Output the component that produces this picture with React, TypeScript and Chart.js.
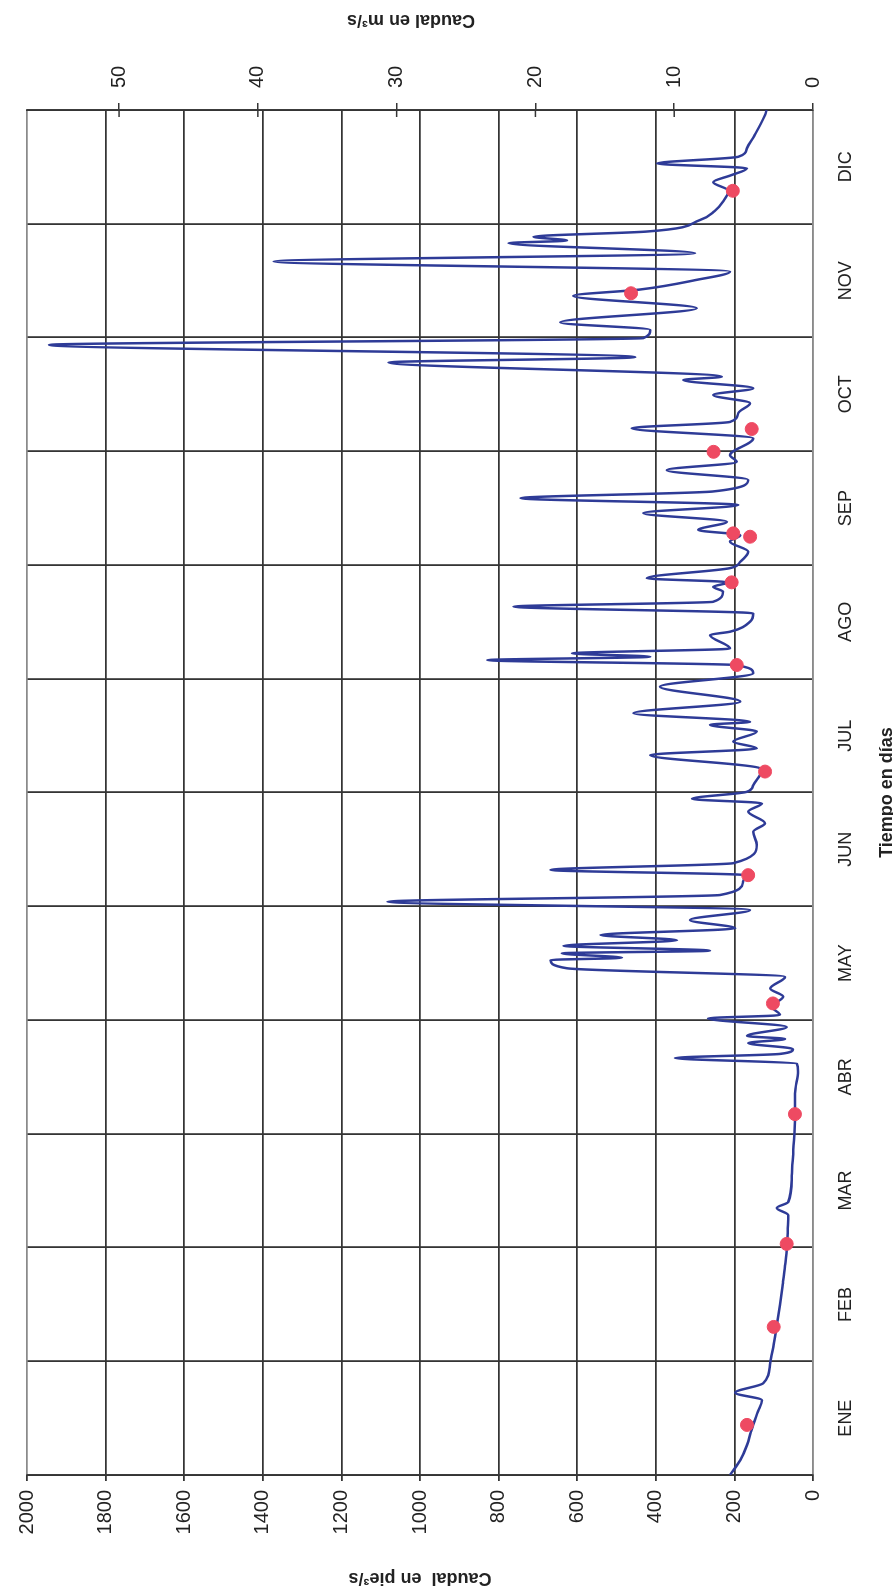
import React, { useEffect, useRef } from "react";
import { Chart, registerables } from "chart.js";

Chart.register(...registerables);

// ---------- data ----------
const MONTHS = ["ENE", "FEB", "MAR", "ABR", "MAY", "JUN", "JUL", "AGO", "SEP", "OCT", "NOV", "DIC"];
const DAYS_IN_YEAR = 365;
const CFS_PER_CMS = 35.3147;
const CFS_MAX = 2000;
const CFS_STEP = 200;
const CMS_STEP = 10;

// daily discharge trace (day of year, ft³/s)
const FLOW_DAY = [
  0, 4, 8, 11.5, 13.5, 17, 20, 22, 24.5, 30, 35, 40, 45.5, 51, 56, 61, 66, 69.5, 71.4, 73,
  80, 87, 96, 102, 108, 110, 111.5, 112.6, 113.9, 115.5, 116.6, 117.4, 119.8, 122.1, 123,
  125.2, 127.9, 130.1, 133.2, 135.5, 137.7, 138.3, 139.5, 140.2, 141.5, 143, 144.4, 146.2,
  148.4, 151.1, 153.3, 155.1, 158.6, 160.4, 161.8, 163.6, 168.5, 172, 174.3, 177.4, 179.6,
  180.8, 182.7, 184.5, 188.1, 189, 192.5, 194.3, 196.1, 198.8, 200.6, 201.4, 203.7, 206.8,
  210.8, 214.4, 216.6, 217.9, 218.8, 219.7, 221, 224.6, 225.5, 228.2, 230.4, 232.2, 233.5,
  236.2, 237.5, 238.7, 239.8, 242.5, 244.2, 246.9, 249.6, 251.3, 252.7, 254.9, 257.2, 259.4,
  261.2, 263, 266.1, 268.7, 270.9, 272.7, 277.2, 279.9, 281.6, 284, 286.6, 288.8, 290.6,
  292.8, 293.7, 297.5, 298.9, 302.2, 304, 306.2, 308.2, 312, 315.3, 317, 319.5, 321.8, 324.5,
  326.7, 329.4, 330.1, 331.1, 332.5, 335.6, 338, 340.5, 343.4, 345.7, 347.5, 349.4, 350.7,
  352.5, 354.8, 358, 363.7, 365,
];
const FLOW_CFS = [
  211, 185, 168, 158, 152, 140, 130, 198, 127, 109, 100, 92, 84, 77, 71, 66, 64, 63, 92, 63,
  54, 50, 46, 46, 38, 41, 351, 84, 51, 165, 71, 168, 67, 267, 84,
  105, 76, 109, 71, 626, 668, 486, 639, 262, 635, 346, 541, 198,
  313, 160, 1083, 236, 178, 172, 668, 203, 143, 152, 122, 165, 130,
  308, 168, 152, 132, 135, 414, 143, 203, 143, 262, 160, 457, 185,
  389, 152, 200, 829, 414, 613, 211, 262, 211, 160, 152, 762, 254,
  229, 254, 215, 423, 211, 185, 165, 211, 185, 292, 219, 432, 190,
  744, 254, 165, 372, 194, 211, 152, 461, 211, 190, 160, 254, 152,
  330, 232, 1080, 452, 1944, 432, 414, 643, 296, 610, 440, 300, 211, 1372,
  300, 775, 626, 711, 423, 287, 250, 229, 215, 254, 210, 168, 397,
  190, 168, 150, 122, 118,
];

// measured samples (red dots)
const SAMPLE_DAY = [13.4, 39.6, 61.8, 96.5, 126.1, 160.4, 188.1, 216.6, 238.7, 250.9, 251.8, 273.6, 279.7, 316, 343.4];
const SAMPLE_CFS = [168, 100, 67, 46, 102, 165, 122, 194, 207, 160, 203, 253, 156, 463, 204];

const MONTH_MID = MONTHS.map((_, i) => ((i + 0.5) * DAYS_IN_YEAR) / MONTHS.length);

const FONT = '"Liberation Sans", Arial, Helvetica, sans-serif';
const GRID = "#353535";
const TEXT = "#222";

const W = 1594;
const H = 893;

const rightTitlePlugin = {
  id: "rightTitle",
  afterDraw(chart: any) {
    const { ctx, chartArea, scales } = chart;
    const y2 = scales.y2;
    ctx.save();
    ctx.strokeStyle = GRID;
    ctx.lineWidth = 1.5;
    for (const t of y2.ticks) {
      if (t.value === 0) continue;
      const p = y2.getPixelForValue(t.value);
      ctx.beginPath();
      ctx.moveTo(chartArea.right - 7, p);
      ctx.lineTo(chartArea.right, p);
      ctx.stroke();
    }
    ctx.translate(W - 20, (chartArea.top + chartArea.bottom) / 2 - 9);
    ctx.rotate(-Math.PI / 2);
    ctx.font = "bold 18px " + FONT;
    ctx.fillStyle = TEXT;
    ctx.textAlign = "center";
    ctx.textBaseline = "middle";
    ctx.fillText("Caudal en m³/s", 0, 0);
    ctx.restore();
  },
};

export default function App() {
  const ref = useRef<HTMLCanvasElement | null>(null);

  useEffect(() => {
    if (!ref.current) return;
    const flow = FLOW_DAY.map((d, i) => ({ x: d, y: FLOW_CFS[i] }));
    const samples = SAMPLE_DAY.map((d, i) => ({ x: d, y: SAMPLE_CFS[i] }));

    const chart = new Chart(ref.current, {
      type: "line",
      data: {
        datasets: [
          {
            type: "scatter",
            label: "Aforos",
            data: samples,
            backgroundColor: "#ee4a62",
            borderColor: "#ee4a62",
            pointRadius: 6.5,
            order: 0,
            yAxisID: "y",
          } as any,
          {
            type: "line",
            label: "Caudal",
            data: flow,
            borderColor: "#2e3b97",
            borderWidth: 2.5,
            pointRadius: 0,
            cubicInterpolationMode: "monotone",
            fill: false,
            order: 1,
            yAxisID: "y",
          },
        ],
      },
      options: {
        animation: false,
        responsive: false,
        devicePixelRatio: 1,
        events: [],
        layout: { padding: { top: 26, left: 0, right: 0, bottom: 0 } },
        plugins: { legend: { display: false }, tooltip: { enabled: false } },
        scales: {
          x: {
            type: "linear",
            min: 0,
            max: DAYS_IN_YEAR,
            afterBuildTicks: (scale: any) => {
              scale.ticks = MONTH_MID.map((v) => ({ value: v }));
            },
            afterFit: (scale: any) => {
              scale.height = 80;
            },
            ticks: {
              autoSkip: false,
              maxRotation: 0,
              minRotation: 0,
              padding: 22,
              color: TEXT,
              font: { family: FONT, size: 18 },
              callback: (_v: any, i: number) => MONTHS[i],
            },
            grid: { offset: true, color: GRID, lineWidth: 1.8, drawTicks: false },
            border: { color: "#8a8a8a", width: 1.5 },
            title: {
              display: true,
              text: "Tiempo en días",
              color: TEXT,
              font: { family: FONT, size: 18, weight: "bold", lineHeight: 1 },
              padding: { top: 0, bottom: -3 },
            },
          },
          y: {
            type: "linear",
            position: "left",
            min: 0,
            max: CFS_MAX,
            afterFit: (scale: any) => {
              scale.width = 119;
            },
            ticks: {
              stepSize: CFS_STEP,
              padding: 9,
              color: TEXT,
              font: { family: FONT, size: 20 },
              callback: (v: any) => String(v),
            },
            grid: {
              color: (c: any) => (c.tick && (c.tick.value === CFS_MAX || c.tick.value === 0) ? "#8a8a8a" : GRID),
              tickColor: GRID,
              lineWidth: 1.8,
              tickLength: 6,
            },
            border: { color: GRID, width: 1.8 },
            title: {
              display: true,
              text: "Caudal  en pie³/s",
              color: TEXT,
              font: { family: FONT, size: 18, weight: "bold", lineHeight: 1 },
              padding: { top: 7, bottom: 0 },
            },
          },
          y2: {
            type: "linear",
            position: "right",
            min: 0,
            max: CFS_MAX / CFS_PER_CMS,
            afterFit: (scale: any) => {
              scale.width = 110;
            },
            ticks: {
              stepSize: CMS_STEP,
              includeBounds: false,
              padding: 15,
              color: TEXT,
              font: { family: FONT, size: 20 },
              callback: (v: any) => String(v),
            },
            grid: { drawOnChartArea: false, color: GRID, lineWidth: 1.5, tickLength: 7 },
            border: { color: GRID, width: 1.8 },
          },
        },
      },
      plugins: [rightTitlePlugin],
    } as any);

    return () => chart.destroy();
  }, []);

  return (
    <div style={{ position: "absolute", left: 0, top: 0, width: H, height: W, overflow: "hidden", background: "#fff" }}>
      <div
        style={{
          position: "absolute",
          left: 0,
          top: 0,
          width: W,
          height: H,
          transformOrigin: "0 0",
          transform: `translate(0px, ${W}px) rotate(-90deg)`,
        }}
      >
        <canvas ref={ref} width={W} height={H} style={{ width: W, height: H, display: "block" }} />
      </div>
    </div>
  );
}
